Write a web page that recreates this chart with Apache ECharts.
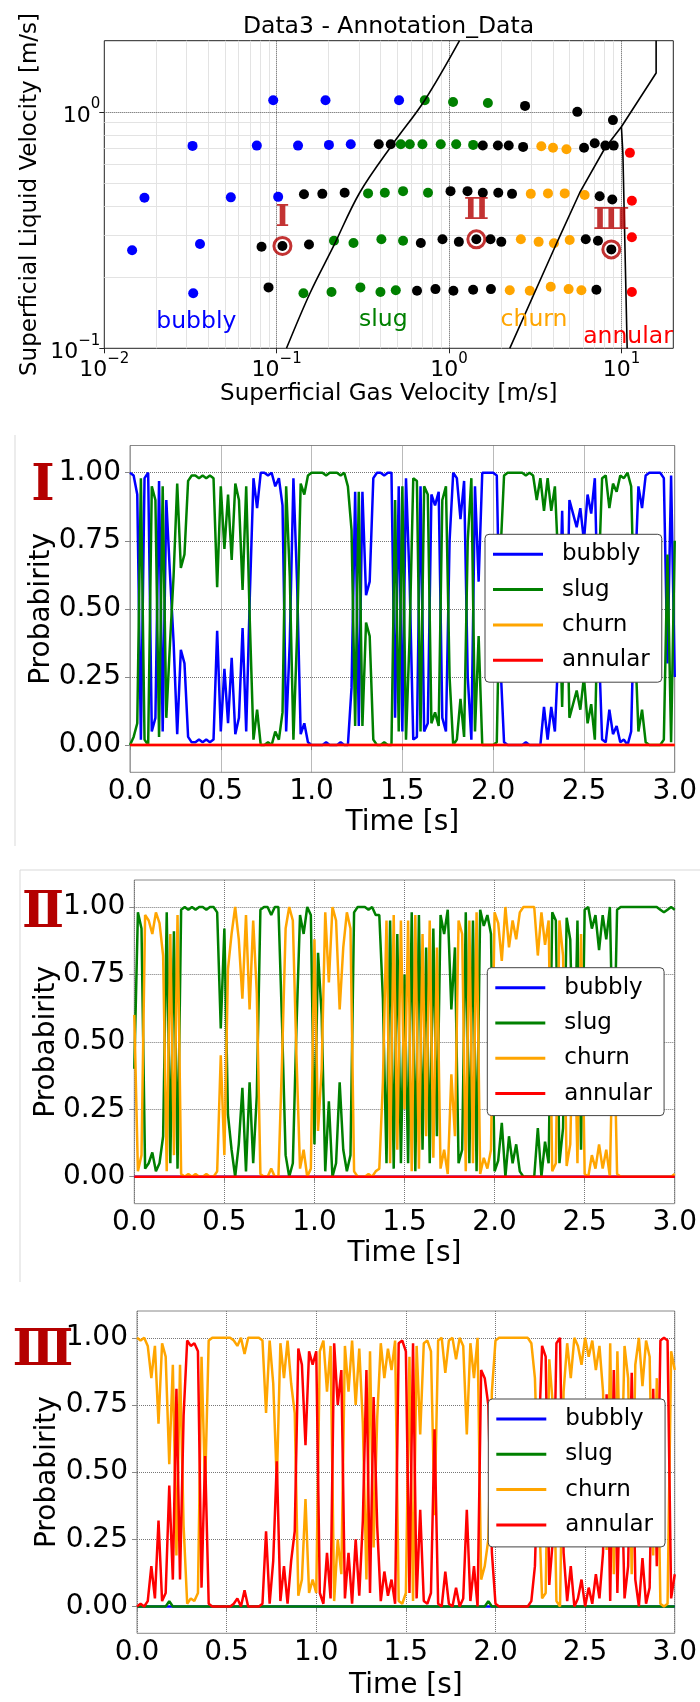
<!DOCTYPE html>
<html><head><meta charset="utf-8">
<script src="https://cdn.jsdelivr.net/npm/echarts@6/dist/echarts.min.js"></script>
<style>html,body{margin:0;padding:0;background:#fff}#c{width:700px;height:1702px}</style>
</head><body><div id="c"></div>
<script>
// ---------- top scatter (flow regime map) ----------
const bubblyPts = [[0.0955,1.12],[0.192,1.12],[0.513,1.12],[0.0325,0.718],[0.0767,0.72],[0.133,0.72],[0.201,0.725],[0.269,0.73],[0.0171,0.433],[0.0542,0.435],[0.102,0.437],[0.0145,0.26],[0.0359,0.276],[0.0328,0.171]];
const slugPts = [[0.723,1.12],[1.055,1.10],[1.68,1.09],[0.525,0.73],[0.592,0.73],[0.701,0.73],[0.895,0.73],[1.10,0.73],[1.38,0.725],[0.339,0.452],[0.424,0.455],[0.541,0.462],[0.755,0.455],[0.215,0.285],[0.279,0.279],[0.405,0.289],[0.541,0.285],[0.143,0.171],[0.208,0.173],[0.306,0.181],[0.400,0.173],[0.491,0.176]];
const churnPts = [[3.43,0.716],[4.01,0.705],[4.80,0.695],[2.98,0.45],[3.75,0.452],[4.69,0.452],[6.12,0.445],[2.61,0.289],[3.31,0.282],[4.06,0.278],[5.01,0.287],[2.25,0.176],[2.94,0.175],[3.89,0.182],[4.94,0.178],[5.86,0.176]];
const annularPts = [[11.2,0.671],[11.5,0.421],[11.5,0.295],[11.5,0.173]];
const otherPts = [[2.76,1.06],[5.55,1.0],[8.93,0.923],[0.391,0.73],[0.459,0.73],[1.57,0.721],[1.92,0.721],[2.22,0.721],[2.69,0.711],[6.07,0.705],[7.00,0.737],[8.07,0.72],[9.02,0.72],[0.144,0.448],[0.184,0.45],[0.248,0.455],[1.02,0.462],[1.28,0.462],[1.57,0.455],[1.93,0.455],[2.32,0.45],[7.48,0.44],[8.85,0.426],[0.0817,0.269],[0.108,0.271],[0.154,0.275],[0.686,0.279],[0.916,0.289],[1.14,0.282],[1.44,0.289],[1.74,0.289],[2.01,0.282],[6.21,0.289],[7.31,0.285],[8.74,0.262],[0.0897,0.181],[0.652,0.175],[0.834,0.178],[1.06,0.175],[1.38,0.177],[1.75,0.178],[7.16,0.177]];
const ringPts = [[0.108,0.271],[1.44,0.289],[8.74,0.262]];
const ringLabels = ['Ⅰ','Ⅱ','Ⅲ'];
const boundBubblySlug = [[0.114,0.1],[0.156,0.171],[0.213,0.269],[0.303,0.455],[0.474,0.735],[0.723,1.12],[1.15,2.0]];
const boundSlugChurn = [[2.25,0.1],[4.29,0.287],[5.73,0.455],[8.0,0.70],[10.0,0.865],[15.9,1.46],[15.9,2.0]];
const boundChurnAnnular = [[10.0,0.865],[10.2,0.667],[10.8,0.1]];
const xMinorGrid = [0.02,0.03,0.04,0.05,0.06,0.07,0.08,0.09,0.2,0.3,0.4,0.5,0.6,0.7,0.8,0.9,2,3,4,5,6,7,8,9];
const xMajorGrid = [0.1,1,10];
const yMinorGrid = [0.2,0.3,0.4,0.5,0.6,0.7,0.8,0.9];
const yMajorGrid = [1];

// ---------- probability time series (dt = 0.02 s) ----------
const dt = 0.02, nSamples = 151;
const probTicks = [0,0.25,0.5,0.75,1];
const tEnds = [0,3];
const zeroLine = [0,0];
const B1 = [1.00,0.99,0.92,0.02,0.98,1.00,0.05,0.10,0.97,0.05,
0.90,0.63,0.38,0.04,0.35,0.30,0.03,0.01,0.01,0.02,
0.01,0.02,0.01,0.02,0.42,0.05,0.28,0.08,0.32,0.04,
0.10,0.43,0.05,0.55,0.98,0.87,1.00,1.00,0.99,1.00,
0.95,0.98,0.88,0.05,0.38,0.98,0.60,0.04,0.08,0.01,
0.00,0.00,0.00,0.00,0.01,0.00,0.00,0.00,0.01,0.00,
0.00,0.21,0.93,0.07,0.93,0.55,0.60,0.98,1.00,1.00,
0.99,1.00,1.00,0.10,0.95,0.05,0.98,0.60,0.02,0.03,
0.95,0.05,0.08,0.92,0.88,0.93,0.10,0.05,0.75,1.00,
0.98,0.83,0.97,0.25,0.02,0.95,0.60,1.00,1.00,1.00,
1.00,0.99,0.30,0.01,0.00,0.00,0.00,0.00,0.00,0.01,
0.00,0.00,0.00,0.00,0.14,0.02,0.14,0.05,0.35,0.86,
0.25,0.90,0.85,0.80,0.87,0.75,0.92,0.85,0.98,0.40,
0.02,0.01,0.13,0.04,0.07,0.01,0.02,0.00,0.05,0.60,
0.95,0.87,0.99,1.00,1.00,1.00,1.00,0.98,0.30,0.99,
0.25];
const S1 = [0.00,0.03,0.08,0.98,0.02,0.00,0.95,0.90,0.03,0.95,
0.10,0.37,0.62,0.96,0.65,0.70,0.97,0.99,0.99,0.98,
0.99,0.98,0.99,0.98,0.58,0.95,0.72,0.92,0.68,0.96,
0.90,0.57,0.95,0.45,0.02,0.13,0.00,0.00,0.01,0.00,
0.05,0.02,0.12,0.95,0.62,0.02,0.40,0.96,0.92,0.99,
1.00,1.00,1.00,1.00,0.99,1.00,1.00,1.00,0.99,1.00,
0.95,0.79,0.07,0.93,0.07,0.45,0.40,0.02,0.00,0.00,
0.01,0.00,0.00,0.90,0.05,0.95,0.02,0.40,0.98,0.97,
0.05,0.95,0.92,0.08,0.12,0.07,0.90,0.95,0.25,0.00,
0.02,0.17,0.03,0.75,0.98,0.05,0.40,0.00,0.00,0.00,
0.00,0.01,0.70,0.99,1.00,1.00,1.00,1.00,1.00,0.99,
1.00,0.99,0.90,0.98,0.86,0.98,0.86,0.95,0.65,0.14,
0.75,0.10,0.15,0.20,0.13,0.25,0.08,0.15,0.02,0.60,
0.98,0.99,0.87,0.96,0.93,0.99,0.98,1.00,0.95,0.40,
0.05,0.13,0.01,0.00,0.00,0.00,0.00,0.02,0.70,0.01,
0.75];
const S2 = [0.40,0.98,0.92,0.03,0.05,0.09,0.02,0.05,0.15,0.98,
0.05,0.91,0.03,0.99,1.00,0.99,1.00,0.99,1.00,1.00,
0.99,1.00,1.00,0.98,0.55,0.92,0.23,0.10,0.00,0.12,
0.33,0.02,0.35,0.05,0.30,0.99,1.00,1.00,0.97,1.00,
1.00,0.57,0.08,0.00,0.05,0.55,0.97,0.90,1.00,0.97,
0.12,0.83,0.60,0.02,0.28,0.00,0.05,0.35,0.10,0.02,
0.08,0.98,1.00,1.00,1.00,0.99,1.00,0.97,0.97,0.66,
0.05,0.95,0.03,0.90,0.05,0.75,0.05,0.98,0.02,0.97,
0.10,0.85,0.05,0.92,0.15,0.97,0.90,0.99,0.62,0.85,
0.05,0.10,0.98,0.05,0.95,0.02,0.99,0.93,0.97,0.90,
0.02,0.06,0.20,0.00,0.15,0.05,0.12,0.02,0.00,0.00,
0.00,0.00,0.18,0.00,0.13,0.05,0.98,0.95,0.05,0.18,
0.96,0.88,0.30,0.95,0.10,0.99,1.00,0.92,0.97,0.84,
0.97,0.88,1.00,0.35,0.99,1.00,1.00,1.00,1.00,1.00,
1.00,1.00,1.00,1.00,1.00,1.00,0.99,0.98,0.99,1.00,
0.99];
const C2 = [0.60,0.02,0.08,0.97,0.95,0.90,0.98,0.94,0.82,0.02,
0.90,0.08,0.97,0.01,0.00,0.01,0.00,0.01,0.00,0.00,
0.01,0.00,0.00,0.02,0.45,0.08,0.77,0.90,1.00,0.88,
0.66,0.97,0.62,0.95,0.68,0.01,0.00,0.00,0.03,0.00,
0.00,0.43,0.92,1.00,0.95,0.45,0.03,0.10,0.00,0.03,
0.88,0.17,0.40,0.98,0.72,1.00,0.95,0.62,0.85,0.98,
0.92,0.02,0.00,0.00,0.00,0.01,0.00,0.02,0.03,0.35,
0.95,0.05,0.97,0.10,0.95,0.25,0.95,0.02,0.97,0.03,
0.90,0.15,0.95,0.07,0.85,0.03,0.10,0.01,0.38,0.15,
0.95,0.90,0.02,0.95,0.05,0.98,0.01,0.07,0.03,0.10,
0.98,0.94,0.80,1.00,0.85,0.95,0.88,0.98,1.00,1.00,
1.00,1.00,0.82,0.98,0.86,0.95,0.02,0.05,0.95,0.82,
0.04,0.12,0.70,0.05,0.90,0.01,0.00,0.08,0.03,0.12,
0.03,0.10,0.00,0.65,0.01,0.00,0.00,0.00,0.00,0.00,
0.00,0.00,0.00,0.00,0.00,0.00,0.00,0.00,0.00,0.00,
0.01];
const O3 = [1.00,0.99,1.00,0.97,0.85,0.97,0.68,0.98,0.93,0.53,
0.90,0.19,0.90,0.30,0.01,0.03,0.02,0.05,0.93,0.44,
0.99,1.00,1.00,1.00,1.00,1.00,1.00,0.99,0.97,1.00,
0.94,1.00,1.00,1.00,1.00,0.99,0.72,0.99,0.83,0.46,
0.98,0.85,0.99,0.83,0.72,0.04,0.10,0.40,0.05,0.10,
0.05,0.95,0.99,0.80,0.97,0.02,0.25,0.12,0.97,0.80,
0.99,0.75,0.96,0.68,0.10,0.95,0.22,0.70,0.98,0.85,
0.96,0.88,0.99,0.02,0.01,0.05,0.93,0.02,0.97,0.64,
0.98,0.99,0.95,0.34,0.99,1.00,0.87,0.99,1.00,0.92,
1.00,0.97,0.64,0.98,0.85,1.00,0.10,0.15,0.25,0.80,
0.99,1.00,1.00,1.00,1.00,1.00,1.00,1.00,1.00,1.00,
0.98,0.85,0.40,0.03,0.05,0.92,0.75,0.02,0.00,0.80,
0.98,0.85,1.00,0.97,0.90,1.00,0.93,0.99,0.88,0.97,
0.80,0.21,0.98,0.12,0.95,0.40,0.97,0.85,0.12,0.90,
1.00,0.82,0.99,0.93,0.19,0.85,0.01,0.00,0.01,0.95,
0.88];
const R3 = [0.00,0.01,0.00,0.02,0.15,0.03,0.32,0.02,0.05,0.45,
0.10,0.81,0.10,0.71,0.99,0.97,0.98,0.95,0.07,0.56,
0.01,0.00,0.00,0.00,0.00,0.00,0.00,0.01,0.03,0.00,
0.06,0.00,0.00,0.00,0.00,0.01,0.28,0.01,0.17,0.54,
0.02,0.15,0.01,0.17,0.28,0.96,0.90,0.60,0.95,0.90,
0.95,0.05,0.01,0.20,0.03,0.98,0.75,0.88,0.03,0.20,
0.01,0.25,0.04,0.32,0.88,0.05,0.78,0.30,0.02,0.13,
0.04,0.10,0.01,0.98,0.99,0.95,0.05,0.98,0.03,0.36,
0.02,0.01,0.05,0.66,0.01,0.00,0.13,0.01,0.00,0.07,
0.00,0.03,0.36,0.02,0.15,0.00,0.88,0.85,0.75,0.20,
0.01,0.00,0.00,0.00,0.00,0.00,0.00,0.00,0.00,0.00,
0.02,0.15,0.60,0.97,0.93,0.08,0.25,0.98,1.00,0.20,
0.02,0.15,0.00,0.03,0.10,0.00,0.07,0.01,0.12,0.03,
0.20,0.79,0.02,0.88,0.05,0.60,0.03,0.15,0.87,0.10,
0.00,0.18,0.01,0.07,0.81,0.15,0.99,1.00,0.99,0.03,
0.12];
const t3Slug = [0,0.16,0.18,0.20,1.94,1.96,1.98,3.0];
const slug3 = [0,0,0.02,0,0,0.02,0,0];
const regimeNames = ['bubbly','slug','churn','annular'];
const panelLabels = ['Ⅰ','Ⅱ','Ⅲ'];

// ---------- build ----------
const FONT = 'DejaVu Sans';
const SERIF = 'DejaVu Serif';
const MARK_RED = '#b40000';
const COL = {bubbly:'#0000ff', slug:'#008000', churn:'#ffa500', annular:'#ff0000'};
const T = Array.from({length:nSamples}, (_, i) => +(i*dt).toFixed(2));
const zip = (ts, vs) => ts.map((t, i) => [t, vs[i]]);

const logFmt = v => {
  const e = Math.round(Math.log10(v));
  return '{b|10}{s|' + (e < 0 ? '\u2212' + (-e) : '' + e) + '}';
};
const richLog = {
  b: {fontSize:22, fontFamily:FONT, color:'#000', padding:[8,0,0,0]},
  s: {fontSize:15, fontFamily:FONT, color:'#000', verticalAlign:'top'}
};

const grids = [
  {left:104.3, top:40.7, width:569, height:307.6, show:true, borderColor:'#222', borderWidth:1},
  {left:130, top:445.5, width:546, height:326.8, show:true, borderColor:'#888', borderWidth:1},
  {left:134.3, top:880, width:541.7, height:323.7, show:true, borderColor:'#888', borderWidth:1},
  {left:137, top:1311, width:539, height:322.3, show:true, borderColor:'#888', borderWidth:1}
];

const xAxes = [{
  type:'log', logBase:10, gridIndex:0, min:0.01, max:20,
  axisLine:{show:false}, axisTick:{show:true, length:5, lineStyle:{color:'#222'}},
  axisLabel:{showMaxLabel:false, margin:3, formatter:logFmt, rich:richLog},
  splitLine:{show:false},
  name:'Superficial Gas Velocity [m/s]', nameLocation:'middle', nameGap:32,
  nameTextStyle:{fontSize:23, color:'#000', fontFamily:FONT}
}];
const yAxes = [{
  type:'log', logBase:10, gridIndex:0, min:0.1, max:2,
  axisLine:{show:false}, axisTick:{show:true, length:5, lineStyle:{color:'#222'}},
  axisLabel:{showMaxLabel:false, margin:4, formatter:logFmt, rich:richLog},
  splitLine:{show:false},
  name:'Superficial Liquid Velocity [m/s]', nameLocation:'middle', nameGap:63, nameRotate:90,
  nameMoveOverlap:false,
  nameTextStyle:{fontSize:23, color:'#000', fontFamily:FONT}
}];

const panelCfg = [
  {yGap:74, xGap:36, legend:{left:485, top:534.3}, label:[43,487],
   lines:[[T,B1],[T,S1],[tEnds,zeroLine],[tEnds,zeroLine]]},
  {yGap:74, xGap:36, legend:{left:487.3, top:967.7}, label:[43,914],
   lines:[[tEnds,zeroLine],[T,S2],[T,C2],[tEnds,zeroLine]]},
  {yGap:75, xGap:38, legend:{left:488.3, top:1399}, label:[43,1352],
   lines:[[tEnds,zeroLine],[t3Slug,slug3],[T,O3],[T,R3]]}
];

const series = [];
const legends = [];

// top chart grid lines (kept beneath the data marks)
const mk = (arr, key, style) => arr.map(v => ({[key]: v, lineStyle: style}));
const minorStyle = {color:'#e3e3e3', type:'solid', width:1};
const majorStyle = {color:'#555', type:'dotted', width:1};
series.push({
  type:'scatter', xAxisIndex:0, yAxisIndex:0, data:[], z:1, silent:true,
  markLine:{silent:true, z:1, symbol:['none','none'], label:{show:false}, animation:false,
    data:[].concat(mk(xMinorGrid,'xAxis',minorStyle), mk(yMinorGrid,'yAxis',minorStyle),
                   mk(xMajorGrid,'xAxis',majorStyle), mk(yMajorGrid,'yAxis',majorStyle))}
});
[[bubblyPts,COL.bubbly],[slugPts,COL.slug],[churnPts,COL.churn],[annularPts,COL.annular],[otherPts,'#000']].forEach(([d,c],i) => {
  series.push({type:'scatter', name:'pts'+i, xAxisIndex:0, yAxisIndex:0, data:d, symbolSize:10, z:3,
    itemStyle:{color:c, opacity:1}, silent:true});
});
[boundBubblySlug, boundSlugChurn, boundChurnAnnular].forEach((d,i) => {
  series.push({type:'line', name:'bound'+i, xAxisIndex:0, yAxisIndex:0, data:d, showSymbol:false, z:4,
    smooth: i === 0 ? 0.35 : false,
    lineStyle:{color:'#000', width:1.6, type:'solid'}, silent:true});
});
series.push({type:'scatter', name:'ringGap', xAxisIndex:0, yAxisIndex:0, data:ringPts, symbolSize:12.5, z:6, silent:true,
  itemStyle:{color:'rgba(0,0,0,0)', borderColor:'#fff', borderWidth:1.5}});
series.push({type:'scatter', name:'rings', xAxisIndex:0, yAxisIndex:0, data:ringPts, symbolSize:17, z:7, silent:true,
  itemStyle:{color:'rgba(0,0,0,0)', borderColor:MARK_RED, borderWidth:3},
  label:{show:true, position:'top', distance:3, formatter:p => ringLabels[p.dataIndex],
    color:MARK_RED, fontSize:30, fontWeight:'bold', fontFamily:SERIF}});

const graphic = [];
const txt = (x, y, text, size, color, extra) => Object.assign({
  type:'text', x:x, y:y, silent:true, z:100,
  style:Object.assign({text:text, fontSize:size, fontFamily:FONT, fill:color,
    textAlign:'center', textVerticalAlign:'middle', align:'center', verticalAlign:'middle'}, extra || {})
});

panelCfg.forEach((p, k) => {
  const gi = k + 1;
  xAxes.push({
    type:'value', gridIndex:gi, min:0, max:3, interval:0.5,
    axisLine:{show:false}, axisTick:{length:5, lineStyle:{color:'#888'}},
    axisLabel:{formatter:v => v.toFixed(1), fontSize:28, color:'#000', margin:5, fontFamily:FONT},
    splitLine:{show:true, lineStyle:{type:'dotted', color:'#777', width:1}},
    name:'Time [s]', nameLocation:'middle', nameGap:p.xGap,
    nameTextStyle:{fontSize:28, color:'#000', fontFamily:FONT}
  });
  yAxes.push({
    type:'value', gridIndex:gi, min:-0.1, max:1.1,
    axisLine:{show:false}, axisTick:{customValues:probTicks, length:5, lineStyle:{color:'#888'}},
    axisLabel:{customValues:probTicks, formatter:v => v.toFixed(2), fontSize:28, color:'#000', margin:9, fontFamily:FONT},
    splitLine:{show:false},
    name:'Probabirity', nameLocation:'middle', nameRotate:90, nameGap:p.yGap, nameMoveOverlap:false,
    nameTextStyle:{fontSize:28, color:'#000', fontFamily:FONT}
  });
  series.push({type:'line', xAxisIndex:gi, yAxisIndex:gi, data:[], z:1, silent:true,
    markLine:{silent:true, z:1, symbol:['none','none'], label:{show:false}, animation:false,
      data:probTicks.map(v => ({yAxis:v})), lineStyle:{type:'dotted', color:'#777', width:1}}});
  p.lines.forEach(([ts, vs], j) => {
    const nm = regimeNames[j];
    series.push({type:'line', name:nm, xAxisIndex:gi, yAxisIndex:gi, data:zip(ts, vs),
      showSymbol:false, z:3, lineStyle:{color:COL[nm], width:2.5}, itemStyle:{color:COL[nm]}, silent:true});
  });
  legends.push({
    orient:'vertical', left:p.legend.left, top:p.legend.top, data:regimeNames,
    icon:'rect', itemWidth:50, itemHeight:3, itemGap:11.3, padding:[8,12,10,8],
    backgroundColor:'#fff', borderColor:'#444', borderWidth:1, borderRadius:4,
    selectedMode:false, z:10,
    textStyle:{fontSize:23, lineHeight:24, color:'#000', fontFamily:FONT, padding:[0,0,0,14]}
  });
  graphic.push(txt(p.label[0], p.label[1], panelLabels[k], 50, MARK_RED, {fontFamily:SERIF, fontWeight:'bold'}));
});

graphic.push(
  txt(388.5, 26.7, 'Data3 - Annotation_Data', 23.5, '#000'),
  txt(196.3, 321.7, 'bubbly', 23.5, COL.bubbly),
  txt(383.3, 320, 'slug', 23.5, COL.slug),
  txt(534, 320, 'churn', 23.5, COL.churn),
  txt(628, 336.7, 'annular', 23.5, COL.annular),
  {type:'line', silent:true, shape:{x1:15, y1:435, x2:15, y2:846}, style:{stroke:'#d9d9d9', lineWidth:1}},
  {type:'line', silent:true, shape:{x1:20, y1:870, x2:20, y2:1282}, style:{stroke:'#d9d9d9', lineWidth:1}},
  {type:'line', silent:true, shape:{x1:20, y1:870, x2:700, y2:870}, style:{stroke:'#d9d9d9', lineWidth:1}}
);

const chart = echarts.init(document.getElementById('c'), null, {renderer:'canvas'});
chart.setOption({
  animation:false,
  backgroundColor:'#fff',
  textStyle:{fontFamily:FONT},
  grid:grids, xAxis:xAxes, yAxis:yAxes, legend:legends, graphic:graphic, series:series
});
</script></body></html>
